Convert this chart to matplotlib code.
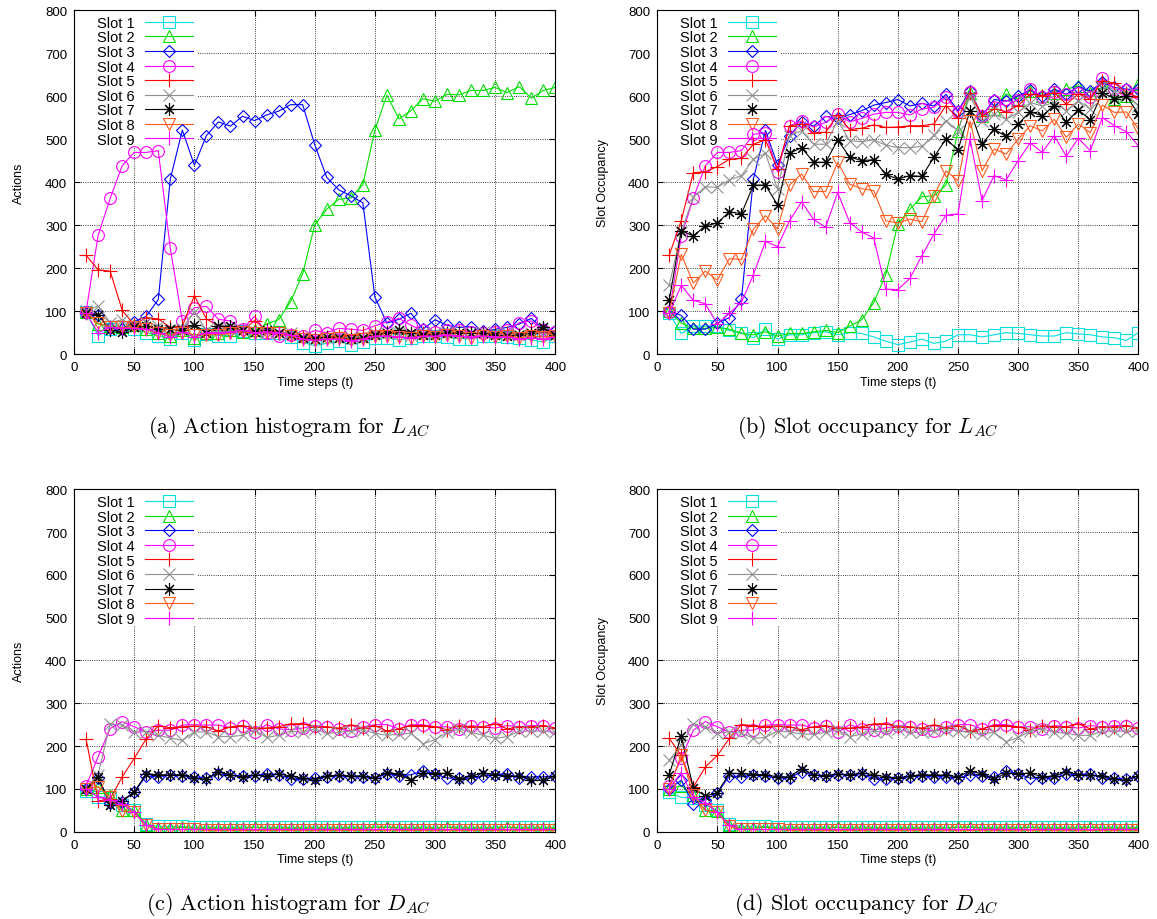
import matplotlib
matplotlib.use("Agg")
import matplotlib.pyplot as plt
from matplotlib.patches import Rectangle

plt.rcParams['font.family'] = ['Liberation Sans', 'DejaVu Sans']
plt.rcParams['mathtext.fontset'] = 'cm'

steps = list(range(10, 410, 10))
slot_names = ['Slot 1', 'Slot 2', 'Slot 3', 'Slot 4', 'Slot 5',
              'Slot 6', 'Slot 7', 'Slot 8', 'Slot 9']

# (a) action histogram, L_AC
a1 = [97,43,58,62,58,50,43,35,50,33,46,43,43,54,49,50,49,39,27,20,25,30,22,28,38,38,33,38,43,43,40,36,36,43,43,40,38,33,28,43]
a2 = [98,70,65,62,68,58,48,42,55,38,50,48,55,52,55,70,80,122,187,300,337,360,363,394,521,602,547,566,594,588,604,603,613,613,620,608,622,595,613,620]
a3 = [96,90,60,58,75,88,127,407,521,439,508,540,530,553,543,556,565,580,580,487,411,382,368,352,133,72,81,95,58,80,67,62,64,54,58,62,70,83,58,53]
a4 = [99,276,362,438,469,469,473,246,77,108,111,81,77,58,88,50,43,45,42,55,50,60,58,55,66,75,83,67,55,52,55,55,52,50,52,55,73,77,55,52]
a5 = [230,196,193,102,68,85,82,62,65,136,82,65,60,55,78,55,50,45,40,38,40,42,45,48,50,52,50,48,50,48,50,52,48,50,48,50,45,55,50,48]
a6 = [100,112,73,80,65,75,65,55,60,98,55,60,58,55,52,52,50,48,40,35,38,40,38,40,50,48,48,45,50,48,52,50,48,52,50,48,45,50,48,45]
a7 = [95,92,55,52,62,65,58,58,55,68,50,65,65,55,52,55,50,45,38,35,40,38,35,38,45,48,55,50,45,45,50,48,50,48,45,42,45,48,62,45]
a8 = [95,72,62,62,62,58,48,45,50,45,45,45,48,52,48,50,48,42,35,32,35,38,32,35,42,42,40,38,42,40,45,42,38,42,40,42,38,42,40,42]
a9 = [95,50,62,60,60,58,50,40,52,40,50,50,52,55,50,52,50,45,35,32,35,35,30,35,42,42,40,38,42,42,45,42,40,42,40,40,35,38,35,40]

# (b) slot occupancy, L_AC
b1 = [95,48,65,65,65,55,50,38,58,35,45,45,50,52,45,50,48,40,30,22,28,35,25,30,45,45,40,45,50,48,45,42,42,50,47,45,40,38,32,50]
b2 = [100,72,60,60,62,58,48,45,52,42,48,48,52,55,50,65,80,120,185,302,337,366,368,393,519,608,554,570,605,593,612,601,608,616,624,608,632,593,600,628]
b3 = [100,90,58,58,72,85,127,408,520,440,508,540,530,553,548,557,566,579,585,592,577,583,577,604,566,612,554,592,588,600,614,600,616,604,622,612,632,620,616,616]
b4 = [97,274,362,438,469,469,473,511,515,424,531,542,528,539,558,540,548,558,562,562,556,570,574,598,562,610,554,588,577,592,617,597,610,604,608,597,642,616,615,608]
b5 = [230,310,422,424,436,453,455,488,498,430,531,535,514,516,556,522,525,533,527,528,531,531,535,578,548,608,554,570,564,578,605,601,608,581,605,593,636,630,608,597]
b6 = [160,283,365,389,388,405,415,453,467,384,508,519,488,488,543,496,494,498,486,480,480,483,509,543,519,601,543,558,546,562,585,577,585,566,589,570,620,612,605,578]
b7 = [125,287,275,298,305,331,326,393,393,347,467,480,446,446,498,458,450,452,418,407,415,413,458,500,475,566,488,523,506,535,564,554,578,539,568,545,608,594,600,558]
b8 = [95,232,165,193,172,222,220,291,322,291,393,419,378,378,446,395,385,380,310,305,314,308,368,426,403,542,426,477,465,500,531,519,546,504,535,515,579,562,563,523]
b9 = [95,160,125,117,70,95,120,185,262,250,310,354,313,295,376,306,284,270,151,150,176,229,279,323,326,500,357,415,405,450,491,469,508,460,502,473,550,531,517,484]

# (c) action histogram, D_AC
c1 = [95,82,78,62,50,18,12,12,12,10,11,10,10,11,10,10,11,10,10,11,10,10,11,10,10,11,10,10,11,10,10,11,10,10,11,10,10,11,10,10]
c2 = [100,105,85,50,50,15,8,8,10,8,8,8,8,8,10,8,8,8,8,8,8,8,8,8,10,10,8,8,8,8,10,8,8,8,8,10,8,8,8,8]
c3 = [100,125,68,70,92,130,128,133,130,128,125,135,132,130,130,135,133,123,122,125,128,130,128,128,125,135,130,133,142,135,125,125,125,130,133,135,125,128,128,130]
c4 = [107,175,241,257,245,233,237,237,249,250,249,249,243,247,232,250,240,238,242,248,245,240,235,245,250,250,240,250,250,245,245,240,248,245,242,248,245,248,248,242]
c5 = [216,72,76,128,171,217,247,243,245,247,245,235,245,248,242,242,245,252,252,245,245,242,250,242,248,235,240,248,248,245,238,248,245,245,252,240,245,245,248,242]
c6 = [100,133,252,249,233,233,225,219,213,233,233,222,222,225,238,220,225,235,232,240,230,232,235,238,230,225,228,230,205,215,232,240,232,225,218,222,235,235,235,232]
c7 = [100,128,62,72,93,135,133,132,133,125,122,140,132,128,132,130,135,130,125,120,130,132,130,130,125,138,135,120,137,135,137,122,130,137,133,130,130,120,120,130]
c8 = [100,105,80,48,45,15,5,5,5,5,3,3,3,3,3,3,3,3,3,3,3,3,3,3,3,3,3,3,3,3,3,3,3,3,3,3,3,3,3,3]
c9 = [100,80,75,65,45,15,5,5,5,5,5,5,5,5,5,5,5,5,5,5,5,5,5,5,5,5,5,5,5,5,5,5,5,5,5,5,5,5,5,5]

# (d) slot occupancy, D_AC
d1 = [92,80,78,62,50,18,12,12,12,10,11,10,10,11,10,10,11,10,10,11,10,10,11,10,10,11,10,10,11,10,10,11,10,10,11,10,10,11,10,10]
d2 = [100,107,85,50,48,15,8,8,10,8,8,8,8,8,10,8,8,8,8,8,8,8,8,8,10,10,8,8,8,8,10,8,8,8,8,10,8,8,8,8]
d3 = [100,120,65,75,90,130,128,132,130,125,125,140,132,130,133,133,135,123,122,125,128,130,128,128,125,133,130,128,142,135,125,125,125,135,133,135,125,125,122,130]
d4 = [107,171,237,257,245,233,237,237,249,250,249,249,243,247,232,250,240,238,242,248,245,240,235,245,250,250,240,250,250,245,245,240,248,245,242,248,245,248,248,242]
d5 = [218,178,104,151,178,218,250,248,245,247,245,238,245,248,242,242,245,252,252,245,245,242,250,242,248,235,240,248,248,245,238,248,245,245,252,240,245,245,248,242]
d6 = [167,202,252,245,230,233,230,218,220,235,233,228,228,232,238,222,228,235,232,240,232,232,235,238,235,232,228,232,210,220,235,240,232,230,225,225,235,235,235,235]
d7 = [133,224,102,83,91,136,136,133,133,128,128,147,133,130,135,132,137,133,128,125,130,133,132,132,128,142,135,122,137,135,137,128,130,140,133,132,130,122,120,130]
d8 = [100,180,85,50,45,12,5,5,5,5,3,3,3,3,3,3,3,3,3,3,3,3,3,3,3,3,3,3,3,3,3,3,3,3,3,3,3,3,3,3]
d9 = [100,138,80,68,45,15,5,5,5,5,5,5,5,5,5,5,5,5,5,5,5,5,5,5,5,5,5,5,5,5,5,5,5,5,5,5,5,5,5,5]

colors = ['#00e0e0', '#00e000', '#0000ff', '#ff00ff', '#ff0000',
          '#909090', '#000000', '#ff5a1e', '#ff00ff']
markers = ['s', '^', 'D', 'o', '+', 'x', (8, 2, 0), 'v', '+']
msizes = [8, 8, 6.5, 8.5, 10, 8, 9, 8, 10]

# data, y label, caption, axes rect, caption (x, y)
panels = [
    ([a1, a2, a3, a4, a5, a6, a7, a8, a9], 'Actions',
     r'$\mathrm{(a)\ Action\ histogram\ for\ }L_{AC}$', [0.064, 0.614, 0.416, 0.374], (0.250, 0.535)),
    ([b1, b2, b3, b4, b5, b6, b7, b8, b9], 'Slot Occupancy',
     r'$\mathrm{(b)\ Slot\ occupancy\ for\ }L_{AC}$', [0.568, 0.614, 0.416, 0.374], (0.750, 0.535)),
    ([c1, c2, c3, c4, c5, c6, c7, c8, c9], 'Actions',
     r'$\mathrm{(c)\ Action\ histogram\ for\ }D_{AC}$', [0.064, 0.095, 0.416, 0.372], (0.249, 0.017)),
    ([d1, d2, d3, d4, d5, d6, d7, d8, d9], 'Slot Occupancy',
     r'$\mathrm{(d)\ Slot\ occupancy\ for\ }D_{AC}$', [0.568, 0.095, 0.416, 0.372], (0.749, 0.017)),
]

fig = plt.figure(figsize=(11.57, 9.2), dpi=100)

for series, ylab, caption, pos, cap_xy in panels:
    ax = fig.add_axes(pos)
    for i, vals in enumerate(series):
        ax.plot(steps, vals, color=colors[i], marker=markers[i], ms=msizes[i],
                mfc='none', mew=0.8, lw=0.8, label=slot_names[i], zorder=2 + i * 0.01)
    ax.set_xlim(0, 400)
    ax.set_ylim(0, 800)
    ax.set_xticks(range(0, 401, 50))
    ax.set_yticks(range(0, 801, 100))
    ax.set_axisbelow(True)
    ax.grid(True, color='black', ls=':', lw=0.6)
    ax.tick_params(direction='in', top=True, right=True, length=4, labelsize=9.5, pad=5)
    ax.set_xlabel('Time steps (t)', fontsize=9, labelpad=2)
    ax.set_ylabel(ylab, fontsize=9, labelpad=14)
    # white key area hides the grid, as gnuplot does
    ax.add_patch(Rectangle((0, 0.605), 0.256, 0.395, transform=ax.transAxes,
                           fc='white', ec='none', zorder=1))
    leg = ax.legend(loc='upper left', bbox_to_anchor=(0.035, 1.0), markerfirst=False,
                    fontsize=10.5, frameon=False, borderpad=0.2,
                    labelspacing=0.04, handlelength=3.3, handletextpad=0.7,
                    borderaxespad=0.2)
    leg.set_zorder(1.5)
    fig.text(cap_xy[0], cap_xy[1], caption, ha='center', va='center', fontsize=16)

plt.savefig('out.png', dpi=100)
